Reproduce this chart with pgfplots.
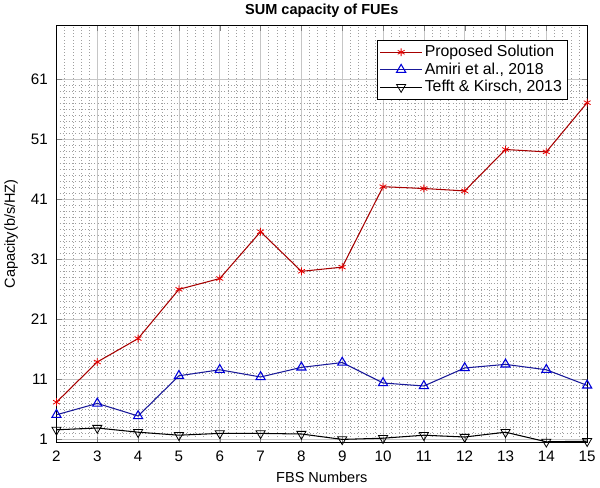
\documentclass[border=0pt]{standalone}
\usepackage{fontspec}
\setmainfont{Liberation Sans}
\usepackage{pgfplots}
\pgfplotsset{compat=1.18}
\definecolor{redline}{rgb}{0.65,0,0}
\definecolor{redmark}{rgb}{0.9,0,0}
\definecolor{blueline}{rgb}{0.1,0.1,0.6}
\definecolor{bluemark}{rgb}{0,0,0.85}
\begin{document}
\begin{tikzpicture}
\begin{axis}[
  scale only axis,
  width=402pt, height=316pt,
  xmin=2, xmax=15, ymin=0.5, ymax=70,
  xtick={2,...,15},
  ytick={1,11,21,31,41,51,61},
  minor x tick num=4,
  minor y tick num=9,
  minor tick length=0pt,
  major tick length=4pt,
  tick align=inside,
  tick pos=both,
  grid=both,
  major grid style={gray!45, line width=0.5pt},
  minor grid style={gray!75, dotted, line width=0.4pt},
  axis line style={black, line width=0.7pt},
  /pgf/number format/assume math mode=true,
  tick label style={font=\fontsize{11.5}{13}\selectfont},
  yticklabel style={xshift=-3pt},
  xticklabel style={yshift=-3pt},
  title={\bfseries SUM capacity of FUEs},
  title style={font=\fontsize{11}{13}\selectfont, yshift=-4pt},
  xlabel={FBS Numbers},
  ylabel={Capacity(b/s/HZ)},
  label style={font=\fontsize{11}{13}\selectfont},
  xlabel style={yshift=-1pt},
  ylabel style={yshift=3pt},
  legend style={at={(rel axis cs:0.963,0.965)}, anchor=north east,
    font=\fontsize{12}{14}\selectfont, draw=black, line width=0.6pt,
    row sep=-1pt, inner sep=2pt},
  legend cell align=left,
  legend image post style={line width=0.5pt},
  legend image code/.code={
    \draw[#1] (0cm,0cm) -- (1.1cm,0cm);
    \draw[#1, mark repeat=2, mark phase=2] plot coordinates {(0cm,0cm) (0.55cm,0cm) (1.1cm,0cm)};
  },
]
\addplot[redline, line width=0.8pt, mark=asterisk, mark size=3pt, mark options={redmark, line width=0.6pt}]
  coordinates {(2,7.2) (3,13.9) (4,17.8) (5,26.0) (6,27.8) (7,35.6) (8,29.0) (9,29.7) (10,43.1) (11,42.8) (12,42.4) (13,49.3) (14,48.9) (15,57.1)};
\addlegendentry{Proposed Solution}
\addplot[blueline, line width=0.8pt, mark=triangle, mark size=4pt, mark options={bluemark, line width=0.8pt}]
  coordinates {(2,5.1) (3,7.0) (4,4.9) (5,11.6) (6,12.6) (7,11.4) (8,13.0) (9,13.8) (10,10.4) (11,9.9) (12,12.9) (13,13.5) (14,12.6) (15,10.0)};
\addlegendentry{Amiri et al., 2018}
\addplot[black, line width=0.8pt, mark=triangle, mark size=4pt, mark options={black, rotate=180, line width=0.6pt}]
  coordinates {(2,2.6) (3,2.9) (4,2.2) (5,1.7) (6,2.0) (7,2.0) (8,1.9) (9,1.0) (10,1.2) (11,1.7) (12,1.4) (13,2.2) (14,0.6) (15,0.7)};
\addlegendentry{Tefft \& Kirsch, 2013}
\end{axis}
\end{tikzpicture}
\end{document}
